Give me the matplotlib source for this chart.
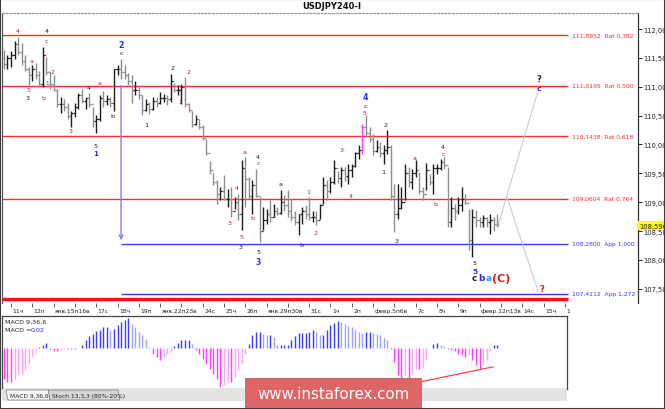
import matplotlib
matplotlib.use("Agg")
import matplotlib.pyplot as plt
import matplotlib.transforms as mtransforms
from matplotlib.patches import Rectangle, Polygon
import numpy as np

W, H, DPI = 665, 410, 100

# ---------------- data ----------------
symbol = "USDJPY240-I"

highs = [111.64, 111.55, 111.62, 111.79, 111.86, 111.76, 111.55, 111.34, 111.38, 111.41,
         111.27, 111.69, 111.52, 111.27, 111.20, 110.96, 110.82, 110.79, 110.72, 110.58,
         110.72, 110.89, 110.96, 110.82, 110.89, 110.65, 110.51, 110.86, 110.93, 110.86,
         110.82, 111.31, 111.38, 111.48, 111.38, 111.24, 111.20, 111.10, 111.00, 110.86,
         110.79, 110.74, 110.82, 110.82, 110.91, 110.88, 110.86, 111.22, 111.07, 111.03,
         111.05, 111.17, 110.72, 110.58, 110.51, 110.44, 110.34, 110.10, 109.71, 109.51,
         109.39, 109.26, 109.47, 109.23, 109.26, 109.09, 109.14, 109.73, 109.78, 109.44,
         109.39, 109.58, 109.09, 108.92, 108.88, 109.04, 108.97, 108.92, 109.21, 109.12,
         109.21, 109.06, 108.85, 108.80, 108.92, 108.95, 109.09, 108.85, 108.85, 108.97,
         109.44, 109.39, 109.44, 109.73, 109.54, 109.61, 109.61, 109.66, 109.66, 109.87,
         109.99, 110.36, 110.51, 110.30, 110.18, 110.08, 110.04, 109.99, 110.25, 109.99,
         109.32, 109.32, 109.26, 109.66, 109.61, 109.58, 109.73, 109.52, 109.26, 109.68,
         109.49, 109.66, 109.66, 109.75, 109.78, 109.61, 109.09, 108.97, 109.09, 109.26,
         109.14, 108.88, 108.88, 108.87, 108.74, 108.78, 108.74, 108.80, 108.74, 108.80]

lows = [111.31, 111.31, 111.34, 111.48, 111.55, 111.38, 111.27, 111.03, 111.10, 111.14,
        111.00, 111.00, 111.20, 110.96, 110.93, 110.65, 110.55, 110.58, 110.44, 110.30,
        110.48, 110.62, 110.72, 110.62, 110.65, 110.30, 110.20, 110.41, 110.65, 110.68,
        110.65, 110.58, 111.20, 111.14, 111.14, 111.03, 110.72, 110.86, 110.79, 110.51,
        110.58, 110.53, 110.60, 110.65, 110.70, 110.74, 110.68, 110.74, 110.91, 110.86,
        110.70, 110.65, 110.56, 110.30, 110.34, 110.27, 110.08, 109.82, 109.49, 109.30,
        108.97, 109.04, 109.04, 108.92, 108.74, 108.88, 108.69, 108.52, 108.92, 109.06,
        108.80, 109.09, 108.31, 108.52, 108.62, 108.66, 108.74, 108.78, 108.80, 108.85,
        108.74, 108.67, 108.61, 108.43, 108.62, 108.71, 108.69, 108.66, 108.61, 108.71,
        108.97, 109.04, 109.16, 109.32, 109.33, 109.26, 109.37, 109.32, 109.44, 109.61,
        109.75, 109.84, 110.13, 110.04, 109.82, 109.87, 109.78, 109.66, 109.84, 109.04,
        108.48, 108.71, 108.88, 109.04, 109.26, 109.23, 109.44, 109.14, 109.04, 109.21,
        109.30, 109.14, 109.49, 109.56, 109.58, 108.57, 108.57, 108.69, 108.80, 108.85,
        108.97, 108.17, 108.05, 108.57, 108.57, 108.57, 108.57, 108.45, 108.50, 108.57]

closes = [111.40, 111.50, 111.55, 111.75, 111.60, 111.45, 111.30, 111.20, 111.30, 111.20,
          111.05, 111.55, 111.25, 111.05, 110.95, 110.70, 110.70, 110.65, 110.50, 110.55,
          110.65, 110.85, 110.75, 110.80, 110.70, 110.40, 110.45, 110.80, 110.75, 110.78,
          110.72, 111.30, 111.30, 111.25, 111.20, 111.10, 110.95, 110.95, 110.85, 110.60,
          110.70, 110.62, 110.75, 110.72, 110.80, 110.80, 110.78, 111.10, 110.95, 110.95,
          111.00, 110.70, 110.60, 110.35, 110.45, 110.30, 110.12, 109.85, 109.55, 109.35,
          109.15, 109.20, 109.05, 109.05, 108.85, 109.00, 108.80, 109.60, 109.40, 109.10,
          109.30, 109.10, 108.50, 108.70, 108.80, 108.75, 108.85, 108.82, 109.00, 108.95,
          108.85, 108.75, 108.65, 108.80, 108.85, 108.80, 108.75, 108.75, 108.70, 108.95,
          109.30, 109.20, 109.35, 109.60, 109.42, 109.55, 109.45, 109.55, 109.62, 109.85,
          109.90, 110.30, 110.20, 110.10, 109.88, 109.95, 109.85, 109.90, 109.95, 109.10,
          108.80, 108.90, 109.00, 109.50, 109.35, 109.50, 109.55, 109.20, 109.15, 109.55,
          109.35, 109.60, 109.60, 109.70, 109.65, 108.65, 108.90, 108.85, 108.95, 109.05,
          108.98, 108.35, 108.75, 108.70, 108.65, 108.72, 108.65, 108.70, 108.62, 108.60]
first_open = 111.50
highlight_bar = 101
current_price = 108.596

macd = [-0.31, -0.34, -0.34, -0.31, -0.27, -0.26, -0.22, -0.16, -0.09, -0.04,
        0.01, 0.03, 0.05, -0.01, -0.03, -0.03, -0.02, -0.01, -0.01, -0.01,
        -0.01, 0.004, 0.03, 0.08, 0.12, 0.14, 0.17, 0.18, 0.21, 0.21,
        0.18, 0.19, 0.23, 0.26, 0.28, 0.30, 0.24, 0.21, 0.16, 0.13,
        0.09, 0.01, -0.06, -0.09, -0.12, -0.09, -0.06, -0.04, 0.02, 0.05,
        0.08, 0.08, 0.08, 0.04, -0.02, -0.06, -0.11, -0.16, -0.21, -0.26,
        -0.31, -0.39, -0.37, -0.34, -0.34, -0.29, -0.22, -0.16, -0.06, 0.04,
        0.13, 0.16, 0.16, 0.14, 0.13, 0.13, 0.11, 0.03, 0.03, 0.03,
        0.03, 0.08, 0.12, 0.15, 0.15, 0.15, 0.16, 0.18, 0.16, 0.13,
        0.13, 0.18, 0.23, 0.25, 0.27, 0.26, 0.24, 0.22, 0.21, 0.18,
        0.16, 0.15, 0.16, 0.16, 0.15, 0.14, 0.13, 0.10, 0.08, -0.01,
        -0.14, -0.27, -0.31, -0.27, -0.34, -0.26, -0.21, -0.21, -0.19, -0.11,
        0.005, 0.04, 0.05, 0.03, 0.02, -0.01, -0.02, -0.03, -0.06, -0.07,
        -0.09, -0.07, -0.12, -0.17, -0.21, -0.17, -0.12, -0.02, 0.03, 0.03]
macd_trend_bars = [112.1, 137.8]
macd_trend_vals = [-0.377, -0.187]

levels = [111.8952, 111.0195, 110.1438, 109.0604, 108.2800, 107.4112]
level_labels = ["111,8952  Rat 0,382", "111,0195  Rat 0,500", "110,1438  Rat 0,618",
                "109,0604  Rat 0,764", "108,2800  App 1,000", "107,4112  App 1,272"]
level_kinds = ["Rat", "Rat", "Rat", "Rat", "App", "App"]
app_start_bar = 33
floor_level = 107.32

price_ticks = [107.5, 108.0, 108.5, 109.0, 109.5, 110.0, 110.5, 111.0, 111.5, 112.0]
date_tick_bars = list(range(2, 160, 6))
# tick labels; an empty string means the label is glued onto the previous one
date_labels = ["11ч", "12п", "янв.15п16в", "", "17с", "18ч", "19п", "янв.22п23в", "",
               "24с", "25ч", "26п", "янв.29п30в", "", "31с", "1ч", "2п", "февр.5п6в",
               "", "7с", "8ч", "9п", "февр.12п13в", "", "14с", "15ч", "1"]

proj_up_bars, proj_up_prices = [139.2, 150.7], [108.60, 110.98]
proj_dn_bars, proj_dn_prices = [141.7, 150.5], [109.09, 107.46]

BROWN, BLACK, BLUE, CYAN, RED, NAVY = "#a52a2a", "#1e1e1e", "#2b2bff", "#2f9bff", "#e01b1b", "#1a1a80"
wave_labels = [
    ("4", 4.0, 111.97, BROWN, 4.6, "normal"),
    ("4", 12.1, 111.97, BLACK, 4.6, "normal"),
    ("c", 12.1, 111.80, BROWN, 4.6, "normal"),
    ("2", 33.0, 111.74, BLUE, 5.6, "bold"),
    ("c", 33.0, 111.59, BLACK, 4.6, "normal"),
    ("a", 7.9, 111.46, BROWN, 4.6, "normal"),
    ("2", 13.8, 111.27, BROWN, 4.6, "normal"),
    ("1", 12.1, 111.08, BROWN, 4.2, "normal"),
    ("5", 6.8, 110.96, BROWN, 4.6, "normal"),
    ("3", 6.8, 110.81, BLACK, 4.6, "normal"),
    ("b", 11.0, 110.82, BROWN, 4.6, "normal"),
    ("4", 24.0, 110.98, BLACK, 4.6, "normal"),
    ("a", 27.0, 111.07, BROWN, 4.6, "normal"),
    ("b", 30.7, 110.51, BLACK, 4.6, "normal"),
    ("3", 18.9, 110.25, BROWN, 4.6, "normal"),
    ("5", 25.9, 109.99, BLACK, 4.6, "normal"),
    ("1", 25.9, 109.85, BLUE, 5.0, "bold"),
    ("2", 47.6, 111.34, BLACK, 4.6, "normal"),
    ("2", 51.9, 111.27, BROWN, 4.6, "normal"),
    ("1", 40.0, 110.35, BLACK, 4.6, "normal"),
    ("1", 49.6, 110.75, BROWN, 4.2, "normal"),
    ("4", 101.7, 110.84, BLUE, 5.6, "bold"),
    ("c", 101.7, 110.67, BLACK, 4.6, "normal"),
    ("5", 101.7, 110.56, BROWN, 4.6, "normal"),
    ("2", 107.6, 110.34, BLACK, 4.6, "normal"),
    ("3", 95.0, 109.91, BROWN, 4.6, "normal"),
    ("a", 67.9, 109.87, BROWN, 4.6, "normal"),
    ("4", 71.6, 109.80, BLACK, 4.6, "normal"),
    ("c", 71.6, 109.68, BROWN, 4.6, "normal"),
    ("4", 65.7, 109.26, BROWN, 4.6, "normal"),
    ("a", 77.8, 109.33, BLACK, 4.6, "normal"),
    ("1", 85.7, 109.19, BROWN, 4.6, "normal"),
    ("4", 97.8, 109.12, BROWN, 4.6, "normal"),
    ("3", 63.7, 108.64, BROWN, 4.6, "normal"),
    ("b", 69.9, 108.73, BROWN, 4.6, "normal"),
    ("5", 66.8, 108.40, BROWN, 4.6, "normal"),
    ("3", 66.8, 108.24, BLACK, 4.6, "normal"),
    ("5", 71.6, 108.15, BLACK, 4.6, "normal"),
    ("3", 71.6, 107.98, BLUE, 5.6, "bold"),
    ("b", 83.7, 108.26, BLACK, 4.6, "normal"),
    ("2", 87.9, 108.48, BROWN, 4.6, "normal"),
    ("1", 106.8, 109.54, BLACK, 4.6, "normal"),
    ("3", 110.7, 108.34, BLACK, 4.6, "normal"),
    ("a", 115.8, 109.78, BROWN, 4.6, "normal"),
    ("b", 121.7, 108.97, BROWN, 4.6, "normal"),
    ("4", 123.7, 109.96, BLACK, 4.6, "normal"),
    ("c", 123.7, 109.85, BROWN, 4.6, "normal"),
    ("5", 132.7, 107.96, BLACK, 4.6, "normal"),
    ("5", 132.7, 107.81, BLUE, 5.4, "bold"),
    ("c", 132.6, 107.69, BLACK, 6.5, "bold"),
    ("b", 134.6, 107.69, BLUE, 6.5, "bold"),
    ("a", 136.6, 107.69, CYAN, 6.5, "bold"),
    ("(C)", 140.2, 107.69, RED, 8.0, "bold"),
    ("?", 150.7, 111.15, NAVY, 6.0, "bold"),
    ("c", 150.7, 110.98, BLUE, 5.4, "bold"),
    ("?", 151.6, 107.50, RED, 6.0, "bold"),
]

# ---------------- layout helpers ----------------
BAR0_PX, BAR_PX = 3.9, 3.55


def px_to_bar(px):
    return (px - BAR0_PX) / BAR_PX


def fbox(x0, y0, x1, y1):
    return [x0 / W, 1 - y1 / H, (x1 - x0) / W, (y1 - y0) / H]


def fpt(x, y):
    return x / W, 1 - y / H


plt.rcParams['font.family'] = ['DejaVu Sans']
fig = plt.figure(figsize=(W / DPI, H / DPI), dpi=DPI)
fig.patch.set_facecolor('white')

# ---------------- main price panel ----------------
ax = fig.add_axes(fbox(2, 14, 638, 304))
ax.set_facecolor('white')
xl, xr = px_to_bar(2), px_to_bar(638)
ax.set_xlim(xl, xr)
ax.set_ylim(107.253, 112.279)

line_end = px_to_bar(568)
label_x = px_to_bar(572)
for lv, lab, kind in zip(levels, level_labels, level_kinds):
    if kind == "Rat":
        c, x0 = "#ff2a2a", xl
    else:
        c, x0 = "#3a3aff", app_start_bar
    ax.hlines(lv, x0, line_end, colors=c, lw=1.0, zorder=1)
    ax.text(label_x, lv, lab, color=c, fontsize=4.3, va='center', ha='left')
ax.hlines(floor_level, xl, line_end, colors="#ff1010", lw=2.4, zorder=1)

# blue projection arrow
ax.annotate('', xy=(app_start_bar, levels[4] + 0.06), xytext=(app_start_bar, levels[1]),
            arrowprops=dict(arrowstyle='->', color='#7d7dff', lw=1.0, mutation_scale=7,
                            shrinkA=0, shrinkB=0), zorder=2)

# OHLC bars
highs_a, lows_a, closes_a = np.array(highs), np.array(lows), np.array(closes)
n = len(highs_a)
idx = np.arange(n)
opens_a = np.r_[first_open, closes_a[:-1]]
cols = np.where(closes_a >= opens_a, '#1c1c1c', '#8e8e8e').astype(object)
cols[highlight_bar] = '#ff3cff'
ax.vlines(idx, lows_a, highs_a, colors=list(cols), lw=1.0, zorder=3)
ax.hlines(opens_a, idx - 0.5, idx, colors=list(cols), lw=0.9, zorder=3)
ax.hlines(closes_a, idx, idx + 0.5, colors=list(cols), lw=0.9, zorder=3)

# projection lines
ax.plot(proj_up_bars, proj_up_prices, color='#cfc7da', lw=0.8, zorder=2)
ax.plot(proj_dn_bars, proj_dn_prices, color='#cfc7da', lw=0.8, zorder=2)

# wave labels
for t, b, p, c, fs, fw in wave_labels:
    ax.text(b, p, t, color=c, fontsize=fs, fontweight=fw, ha='center', va='center', zorder=4)

# spines / axes
ax.spines['bottom'].set_visible(False)
ax.spines['top'].set_color('#9a9a9a')
ax.spines['top'].set_linestyle((0, (1.5, 1.5)))
ax.spines['left'].set_color('#555555')
ax.spines['right'].set_color('#333333')
for s in ax.spines.values():
    s.set_linewidth(0.9)
ax.yaxis.tick_right()
ax.set_yticks(price_ticks)
ax.set_yticklabels([f"{v:.3f}".replace('.', ',') for v in price_ticks], fontsize=4.9)
ax.tick_params(axis='y', direction='out', length=3, width=0.7, pad=1, colors='#222222')
ax.set_xticks(date_tick_bars)
ax.set_xticklabels([])
ax.tick_params(axis='x', direction='out', length=3, width=0.6, color='#444444')
xtr = ax.get_xaxis_transform()
for b, lab in zip(date_tick_bars, date_labels):
    if lab:
        ax.text(b + 0.4, (304 - 312) / 290, lab, transform=xtr, fontsize=4.3, ha='left',
                va='center', color='#222222', clip_on=False)

# current price tag
ytr = mtransforms.blended_transform_factory(ax.transAxes, ax.transData)
ax.text(1.0 + 1.5 / 636, current_price, f"{current_price:.3f}".replace('.', ','), transform=ytr,
        fontsize=4.9, ha='left', va='center', color='#111111', clip_on=False,
        bbox=dict(facecolor='#ffff00', edgecolor='none', pad=1.2), zorder=6)

# title
fig.text(*fpt(332, 6.5), symbol, ha='center', va='center', fontsize=6, fontweight='bold',
         color='#111111')

# ---------------- MACD panel ----------------
mx = fig.add_axes(fbox(2, 317, 567, 390))
mx.set_xlim(px_to_bar(2), px_to_bar(567))
mx.set_ylim(-0.41, 0.325)
m = np.array(macd)
prev = np.r_[m[0], m[:-1]]
mcols = []
for v, pv in zip(m, prev):
    if v >= 0:
        mcols.append('#3d3dff' if v >= pv else '#a3a3ff')
    else:
        mcols.append('#ff3cff' if v <= pv else '#ffa3ff')
mx.vlines(idx, 0, m, colors=mcols, lw=1.0)
mx.plot(macd_trend_bars, macd_trend_vals, color='#ff3030', lw=0.8)
mx.set_xticks([])
mx.set_yticks([])
for s in mx.spines.values():
    s.set_color('#444444')
    s.set_linewidth(0.9)
fig.text(*fpt(5, 322.5), "MACD 9,36,6", fontsize=4.6, ha='left', va='center', color='#222222')
fig.text(*fpt(5, 330), "MACD =", fontsize=4.6, ha='left', va='center', color='#222222')
fig.text(*fpt(31, 330), "0,02", fontsize=4.6, ha='left', va='center', color='#2b2bff')

# tabs strip
fig.add_artist(Rectangle(fpt(2, 402), 565 / W, 12 / H, transform=fig.transFigure,
                         facecolor='#e3e3e3', edgecolor='none'))
tab1 = [(6, 391), (48, 391), (50, 401), (8, 401)]
tab2 = [(48, 391), (118, 391), (120, 401), (50, 401)]
for poly, fc in ((tab2, '#d6d6d6'), (tab1, '#f7f7f7')):
    fig.add_artist(Polygon([fpt(x, y) for x, y in poly], closed=True,
                           transform=fig.transFigure, facecolor=fc, edgecolor='#777777', lw=0.5))
fig.text(*fpt(10, 396.5), "MACD 9,36,6", fontsize=4.3, ha='left', va='center', color='#222222')
fig.text(*fpt(52, 396.5), "Stoch 13,3,3 (80%-20%)", fontsize=4.3, ha='left', va='center',
         color='#222222')

# watermark
fig.add_artist(Rectangle(fpt(245, 410), 177 / W, 31 / H, transform=fig.transFigure,
                         facecolor='#dc6666', edgecolor='none', zorder=10))
fig.text(*fpt(333, 395), "www.instaforex.com", fontsize=10.8, ha='center', va='center',
         color='white', zorder=11)

# outer frame
fig.add_artist(Rectangle((0, 0), 1, 1, transform=fig.transFigure, fill=False,
                         edgecolor='#3c3c3c', lw=1.5, zorder=12))

fig.savefig("out.png", dpi=DPI)
